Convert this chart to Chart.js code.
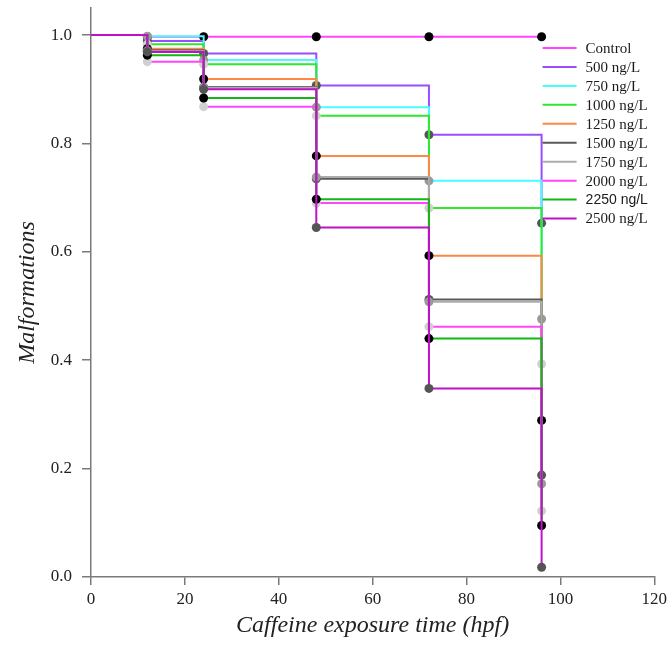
<!DOCTYPE html>
<html>
<head>
<meta charset="utf-8">
<script src="https://cdn.jsdelivr.net/npm/chart.js@4.4.1/dist/chart.umd.min.js"></script>
<style>
  html, body { margin: 0; padding: 0; background: #fff; }
  #wrap { width: 671px; height: 663px; }
</style>
</head>
<body>
<div id="wrap"><canvas id="malfChart" width="671" height="663"></canvas></div>
<script>
// Exposure times (hpf) and fraction of normal embryos per group
const times = [0, 12, 24, 48, 72, 96];
const groups = ["Control", "500 ng/L", "750 ng/L", "1000 ng/L", "1250 ng/L",
                "1500 ng/L", "1750 ng/L", "2000 ng/L", "2250 ng/L", "2500 ng/L"];

const control = [1.0, 0.997, 0.997, 0.997, 0.997, 0.997];
const ng500  = [1.0, 0.989, 0.966, 0.907, 0.816, 0.653];
const ng750  = [1.0, 0.998, 0.954, 0.867, 0.731, 0.476];
const ng1000 = [1.0, 0.983, 0.946, 0.851, 0.681, 0.393];
const ng1250 = [1.0, 0.975, 0.919, 0.777, 0.593, 0.289];
const ng1500 = [1.0, 0.972, 0.904, 0.735, 0.512, 0.188];
const ng1750 = [1.0, 0.970, 0.903, 0.738, 0.508, 0.172];
const ng2000 = [1.0, 0.951, 0.868, 0.690, 0.462, 0.122];
const ng2250 = [1.0, 0.963, 0.884, 0.697, 0.440, 0.095];
const ng2500 = [1.0, 0.969, 0.900, 0.645, 0.348, 0.018];

const xTicks = [0, 20, 40, 60, 80, 100, 120];
const yTicks = [0.0, 0.2, 0.4, 0.6, 0.8, 1.0];

const allSeries = [control, ng500, ng750, ng1000, ng1250, ng1500, ng1750, ng2000, ng2250, ng2500];

const lineColors = ["#ff45ff", "#9a4dff", "#45ffff", "#2ee82e", "#ff8845",
                    "#5a5a5a", "#acacac", "#ff45ff", "#12b812", "#c010c8"];
const dotColors = ["#000000", "#555555", "#9a9a9a", "#d0d0d0"];

const serif = "'Liberation Serif', 'Times New Roman', serif";

const datasets = allSeries.map((vals, i) => ({
    label: groups[i],
    data: vals.map((v, j) => ({ x: times[j], y: v })),
    borderColor: lineColors[i],
    borderWidth: 2,
    stepped: "before",
    fill: false,
    tension: 0,
    pointRadius: (c) => (c.dataIndex === 0 ? 0 : 4.5),
    pointBackgroundColor: dotColors[i % dotColors.length],
    pointBorderWidth: 0,
    // later groups are painted over earlier ones
    order: allSeries.length - 1 - i,
}));

// legend sits inside the plot, to the right of the 96 hpf step
const insideLegend = {
    id: "insideLegend",
    afterDraw(chart) {
        const { ctx, chartArea, scales } = chart;
        const x0 = scales.x.getPixelForValue(96) + 1;
        const y0 = chartArea.top + 40;
        const gap = 18.95;
        ctx.save();
        ctx.textBaseline = "middle";
        groups.forEach((name, i) => {
            const y = y0 + i * gap;
            ctx.strokeStyle = lineColors[i];
            ctx.lineWidth = 2;
            ctx.beginPath();
            ctx.moveTo(x0, y);
            ctx.lineTo(x0 + 34, y);
            ctx.stroke();
            ctx.fillStyle = "#1a1a1a";
            ctx.font = name === "2250 ng/L"
                ? "14px 'Liberation Sans', Arial, sans-serif"
                : "15px " + serif;
            ctx.fillText(name, x0 + 43, y + 1);
        });
        ctx.restore();
    },
};

const axisGray = "#7a7a7a";

new Chart(document.getElementById("malfChart").getContext("2d"), {
    type: "line",
    data: { datasets: datasets },
    options: {
        responsive: false,
        animation: false,
        layout: { padding: { top: 8, right: 16, left: 0, bottom: 0 } },
        plugins: {
            legend: { display: false },
            tooltip: { enabled: false },
        },
        scales: {
            x: {
                type: "linear",
                min: 0,
                max: 120,
                afterBuildTicks: (s) => { s.ticks = xTicks.map((v) => ({ value: v })); },
                afterFit: (s) => { s.height = 86; },
                grid: { display: true, drawOnChartArea: false, drawTicks: true, tickLength: 8, color: axisGray, lineWidth: 1.5 },
                border: { display: true, color: axisGray, width: 1.5 },
                ticks: { color: "#222", padding: 4, font: { family: serif, size: 17 } },
                title: {
                    display: true,
                    text: "Caffeine exposure time (hpf)",
                    color: "#222",
                    font: { family: serif, size: 24, style: "italic" },
                    padding: { top: 6, bottom: 23 },
                },
            },
            y: {
                type: "linear",
                min: 0,
                max: 1.05,
                afterBuildTicks: (s) => { s.ticks = yTicks.map((v) => ({ value: v })); },
                afterFit: (s) => { s.width = 91; s.paddingTop = 0; s.paddingBottom = 0; },
                grid: { display: true, drawOnChartArea: false, drawTicks: true, tickLength: 9, color: axisGray, lineWidth: 1.5 },
                border: { display: true, color: axisGray, width: 1.5 },
                ticks: {
                    color: "#222",
                    padding: 10,
                    font: { family: serif, size: 17 },
                    callback: (v) => Number(v).toFixed(1),
                },
                title: {
                    display: true,
                    text: "Malformations",
                    color: "#222",
                    font: { family: serif, size: 24, style: "italic" },
                    padding: { top: 13, bottom: 4 },
                },
            },
        },
    },
    plugins: [insideLegend],
});
</script>
</body>
</html>
